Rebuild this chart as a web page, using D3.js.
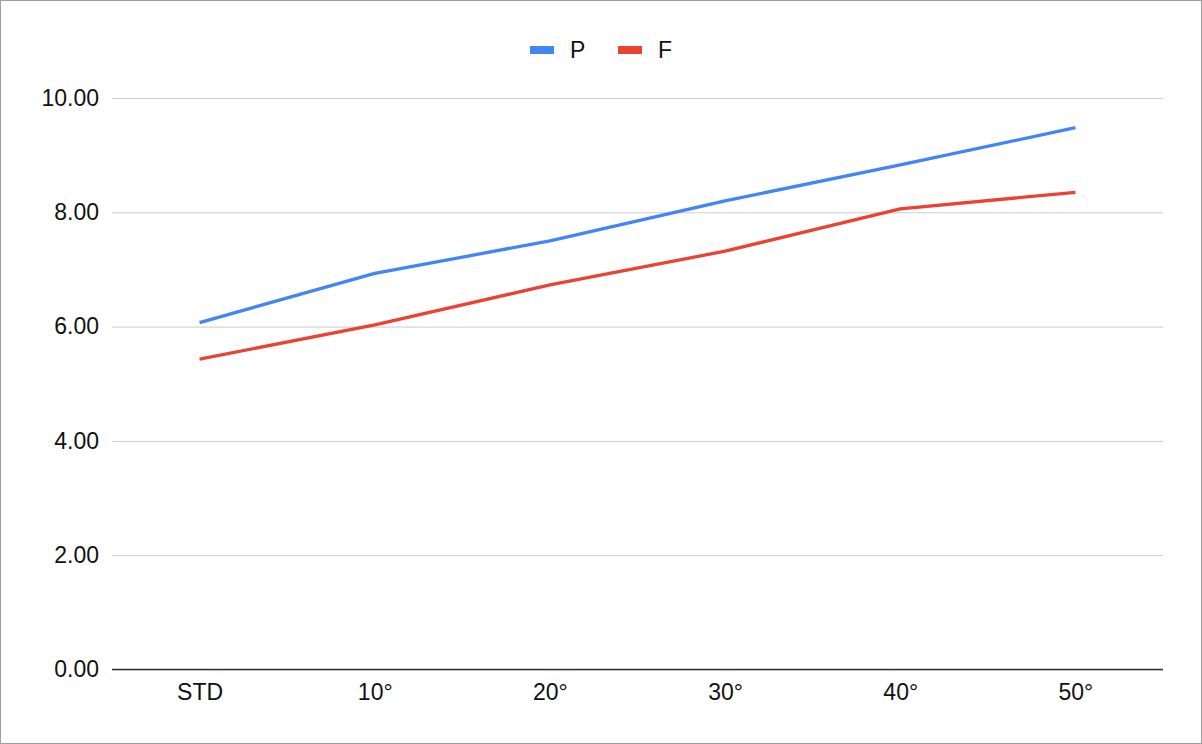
<!DOCTYPE html>
<html>
<head>
<meta charset="utf-8">
<script src="https://cdn.jsdelivr.net/npm/d3@7"></script>
<style>
  html, body { margin: 0; padding: 0; background: #fff; }
  svg { display: block; }
  svg text { font-family: "Liberation Sans", Arial, sans-serif; }
</style>
</head>
<body>
<svg id="chart" width="1202" height="744"></svg>
<script>
const categories = ["STD", "10°", "20°", "30°", "40°", "50°"];
const seriesNames = ["P", "F"];
const seriesP = [6.07, 6.93, 7.50, 8.20, 8.83, 9.48];
const seriesF = [5.43, 6.03, 6.73, 7.32, 8.06, 8.35];
const yTicks = [0, 2, 4, 6, 8, 10];
const colors = ["#4285F4", "#EA4335"];

const W = 1202, H = 744;
const margin = { left: 112, right: 39, top: 98, bottom: 74.5 };
const FS = 23;
const svg = d3.select("#chart");

svg.append("rect").attr("x", 0.5).attr("y", 0.5).attr("width", W - 1).attr("height", H - 1)
  .attr("fill", "#fff").attr("stroke", "#9e9e9e");

const x = d3.scalePoint().domain(categories)
  .range([margin.left, W - margin.right]).padding(0.5);
const y = d3.scaleLinear().domain([0, 10]).range([H - margin.bottom, margin.top]);

// grid + y labels
const yAxis = d3.axisLeft(y).tickValues(yTicks).tickFormat(d3.format(".2f"))
  .tickSize(-(W - margin.right - margin.left)).tickPadding(13);
const gy = svg.append("g").attr("transform", `translate(${margin.left},0)`).call(yAxis)
  .attr("font-family", "Liberation Sans, Arial, sans-serif").attr("font-size", FS);
gy.select(".domain").remove();
gy.selectAll(".tick line").attr("stroke", "#cccccc").attr("stroke-width", 1);
gy.selectAll(".tick text").attr("fill", "#111");

// baseline
svg.append("line").attr("x1", margin.left).attr("x2", W - margin.right)
  .attr("y1", y(0)).attr("y2", y(0)).attr("stroke", "#333").attr("stroke-width", 1.5);

// x axis labels
const xAxis = d3.axisBottom(x).tickSize(0).tickPadding(14.5);
const gx = svg.append("g").attr("transform", `translate(0,${y(0)})`).call(xAxis)
  .attr("font-family", "Liberation Sans, Arial, sans-serif").attr("font-size", FS);
gx.select(".domain").remove();
gx.selectAll(".tick text").attr("fill", "#111");

// lines
const line = d3.line().x((d, i) => x(categories[i])).y(d => y(d));
[seriesP, seriesF].forEach((s, i) => {
  svg.append("path").datum(s).attr("d", line).attr("fill", "none")
    .attr("stroke", colors[i]).attr("stroke-width", 3.3).attr("stroke-linejoin", "round");
});

// legend
const legendX = [530, 618];
seriesNames.forEach((n, i) => {
  svg.append("rect").attr("x", legendX[i]).attr("y", 46).attr("width", 24).attr("height", 8)
    .attr("fill", colors[i]);
  svg.append("text").attr("x", legendX[i] + 40).attr("y", 58)
    .attr("fill", "#111").attr("font-size", FS).text(n);
});
</script>
</body>
</html>
